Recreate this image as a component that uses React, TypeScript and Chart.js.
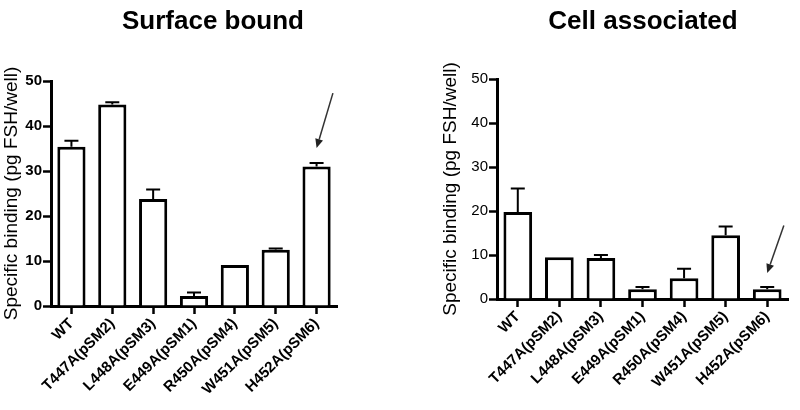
import React, { useEffect, useRef } from 'react';
import { Chart, registerables } from 'chart.js';

Chart.register(...registerables);

const categories = ['WT', 'T447A(pSM2)', 'L448A(pSM3)', 'E449A(pSM1)', 'R450A(pSM4)', 'W451A(pSM5)', 'H452A(pSM6)'];
const surfaceMeans = [35.4, 44.8, 23.8, 2.2, 9.1, 12.5, 31.0];
const surfaceErrTops = [36.7, 45.3, 25.9, 3.0, 9.2, 12.8, 31.8];
const cellMeans = [19.8, 9.5, 9.3, 2.2, 4.7, 14.5, 2.2];
const cellErrTops = [25.1, 9.5, 10.0, 2.7, 6.9, 16.5, 2.7];
const yMin = 0;
const yMax = 50;
const yStep = 10;
const surfaceArrow = { from: [6.4, 47.3], to: [6, 35.1] };
const cellArrow = { from: [6.4, 16.7], to: [6, 5.9] };

const FONT = '"Liberation Sans", Arial, Helvetica, sans-serif';

const errorBarPlugin = {
  id: 'errorBars',
  afterDatasetsDraw(chart: any, _args: any, opts: any) {
    const tops: number[] = opts.tops || [];
    const meta = chart.getDatasetMeta(0);
    const yScale = chart.scales.y;
    const ctx = chart.ctx;
    ctx.save();
    ctx.strokeStyle = '#000';
    ctx.lineWidth = 2;
    meta.data.forEach((el: any, i: number) => {
      const t = tops[i];
      if (t == null) return;
      const yTop = yScale.getPixelForValue(t);
      if (el.y - yTop < 1) return;
      ctx.beginPath();
      ctx.moveTo(el.x, el.y);
      ctx.lineTo(el.x, yTop);
      ctx.moveTo(el.x - 7, yTop);
      ctx.lineTo(el.x + 7, yTop);
      ctx.stroke();
    });
    ctx.restore();
  },
};

const arrowPlugin = {
  id: 'arrowMark',
  afterDraw(chart: any, _args: any, opts: any) {
    if (!opts || !opts.from) return;
    const xs = chart.scales.x;
    const ys = chart.scales.y;
    const x1 = xs.getPixelForValue(opts.from[0]);
    const y1 = ys.getPixelForValue(opts.from[1]);
    const x2 = xs.getPixelForValue(opts.to[0]);
    const y2 = ys.getPixelForValue(opts.to[1]);
    const ang = Math.atan2(y2 - y1, x2 - x1);
    const headLen = 9;
    const headW = 4;
    const ctx = chart.ctx;
    ctx.save();
    ctx.strokeStyle = '#333';
    ctx.fillStyle = '#222';
    ctx.lineWidth = 1.5;
    const bx = x2 - headLen * Math.cos(ang);
    const by = y2 - headLen * Math.sin(ang);
    ctx.beginPath();
    ctx.moveTo(x1, y1);
    ctx.lineTo(bx, by);
    ctx.stroke();
    ctx.beginPath();
    ctx.moveTo(x2, y2);
    ctx.lineTo(bx + headW * Math.sin(ang), by - headW * Math.cos(ang));
    ctx.lineTo(bx - headW * Math.sin(ang), by + headW * Math.cos(ang));
    ctx.closePath();
    ctx.fill();
    ctx.restore();
  },
};

const panelTitlePlugin = {
  id: 'panelTitle',
  afterDraw(chart: any, _args: any, opts: any) {
    if (!opts || !opts.text) return;
    const ctx = chart.ctx;
    ctx.save();
    ctx.font = `bold ${opts.size}px ${FONT}`;
    ctx.fillStyle = '#000';
    ctx.textAlign = 'center';
    ctx.textBaseline = 'middle';
    ctx.fillText(opts.text, opts.x, opts.y);
    ctx.restore();
  },
};

function makeConfig(p: any): any {
  return {
    type: 'bar',
    data: {
      labels: categories,
      datasets: [
        {
          data: p.values,
          backgroundColor: '#fff',
          borderColor: '#000',
          borderWidth: 3,
          barPercentage: 0.69,
          categoryPercentage: 1,
        },
      ],
    },
    plugins: [errorBarPlugin, arrowPlugin, panelTitlePlugin],
    options: {
      responsive: false,
      animation: false,
      layout: { padding: p.padding },
      plugins: {
        legend: { display: false },
        tooltip: { enabled: false },
        title: { display: false },
        errorBars: { tops: p.errTops },
        arrowMark: p.arrow,
        panelTitle: { text: p.title, x: p.titleX, y: 22, size: 26 },
      },
      scales: {
        x: {
          offset: true,
          grid: {
            display: true,
            drawOnChartArea: false,
            drawTicks: true,
            tickLength: 8,
            tickWidth: 2.5,
            tickColor: '#000',
            offset: false,
          },
          border: { display: true, color: '#000', width: 3 },
          ticks: {
            color: '#000',
            maxRotation: 45,
            minRotation: 45,
            autoSkip: false,
            padding: 1,
            font: { family: FONT, size: 15, weight: 'bold' },
          },
          afterFit(scale: any) {
            scale.height = p.xHeight;
          },
        },
        y: {
          min: yMin,
          max: yMax,
          grid: {
            display: true,
            drawOnChartArea: false,
            drawTicks: true,
            tickLength: 8,
            tickWidth: 2.5,
            tickColor: '#000',
          },
          border: { display: true, color: '#000', width: 3 },
          ticks: {
            stepSize: yStep,
            color: '#000',
            padding: 1,
            font: { family: FONT, size: 15, weight: p.yBold ? 'bold' : 'normal' },
          },
          title: {
            display: true,
            text: 'Specific binding (pg FSH/well)',
            color: '#000',
            padding: 0,
            font: { family: FONT, size: 19 },
          },
          afterFit(scale: any) {
            scale.width = p.yWidth;
          },
        },
      },
    },
  };
}

function Panel(props: { cfg: any; left: number }) {
  const ref = useRef<HTMLCanvasElement | null>(null);
  useEffect(() => {
    if (!ref.current) return;
    const chart = new Chart(ref.current, props.cfg);
    return () => chart.destroy();
  }, []);
  return (
    <div style={{ position: 'absolute', left: props.left, top: 0, width: 400, height: 410 }}>
      <canvas ref={ref} width={400} height={410} style={{ width: 400, height: 410, display: 'block' }} />
    </div>
  );
}

export default function App() {
  const leftCfg = makeConfig({
    values: surfaceMeans,
    errTops: surfaceErrTops,
    arrow: surfaceArrow,
    title: 'Surface bound',
    titleX: 213,
    padding: { left: 0, top: 81, right: 63, bottom: 0 },
    yWidth: 51,
    xHeight: 104,
    yBold: true,
  });
  const rightCfg = makeConfig({
    values: cellMeans,
    errTops: cellErrTops,
    arrow: cellArrow,
    title: 'Cell associated',
    titleX: 243,
    padding: { left: 39, top: 79, right: 12, bottom: 0 },
    yWidth: 58,
    xHeight: 111,
    yBold: false,
  });
  return (
    <div style={{ position: 'fixed', left: 0, top: 0, width: 800, height: 410, background: '#fff' }}>
      <Panel cfg={leftCfg} left={0} />
      <Panel cfg={rightCfg} left={400} />
    </div>
  );
}
